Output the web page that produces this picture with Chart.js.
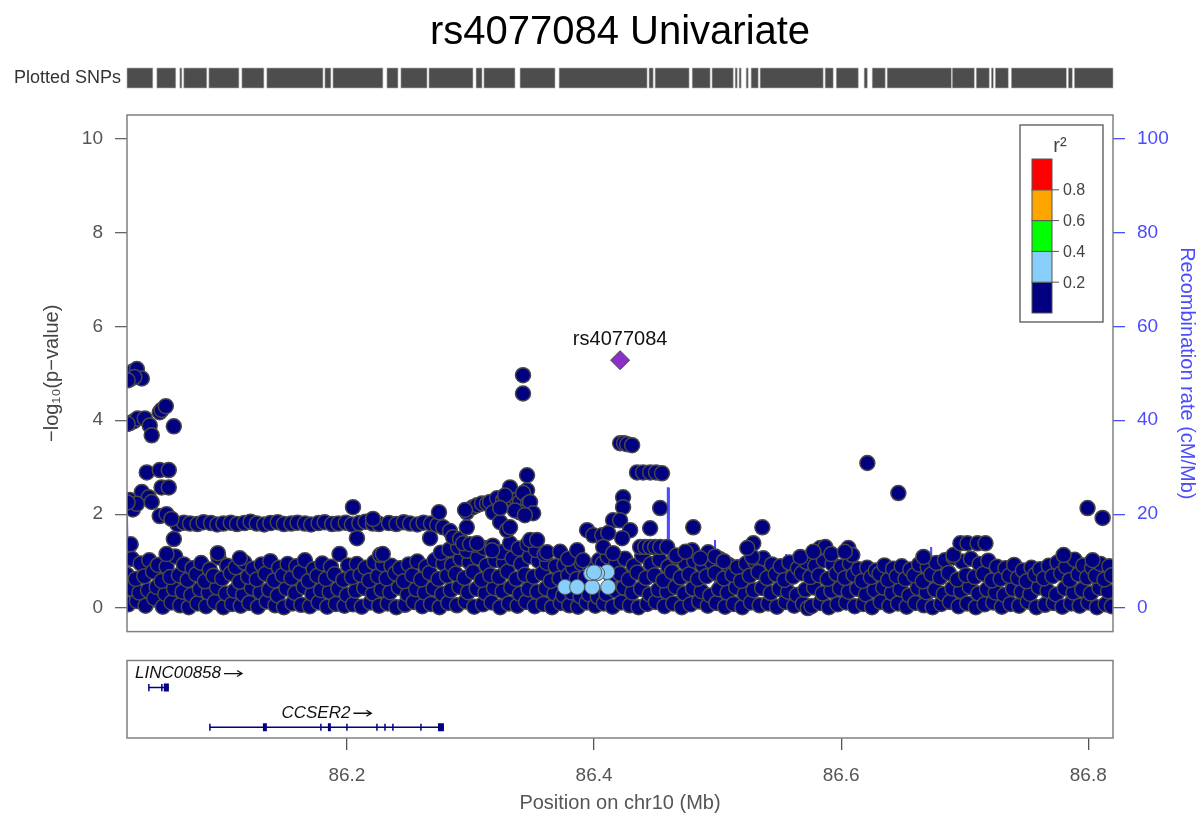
<!DOCTYPE html>
<html>
<head>
<meta charset="utf-8">
<title>rs4077084 Univariate</title>
<script src="https://cdn.jsdelivr.net/npm/chart.js@4.4.1/dist/chart.umd.min.js"></script>
<style>
  html, body { margin: 0; padding: 0; background: #fff; }
  #wrap { position: relative; width: 1204px; height: 816px; }
  #main { position: absolute; left: 0; top: 0; }
  #genes { position: absolute; left: 0; top: 655px; }
</style>
</head>
<body>
<div id="wrap">
  <canvas id="main" width="1204" height="655"></canvas>
  <canvas id="genes" width="1204" height="161"></canvas>
</div>
<script>
const plotTitle = "rs4077084 Univariate";
const XMIN = 86.022, XMAX = 86.820;
const xTicks = [86.2, 86.4, 86.6, 86.8];
const yTicks = [0, 2, 4, 6, 8, 10];
const recTicks = [0, 20, 40, 60, 80, 100];

// index SNP
const leadSnp = { name: "rs4077084", pos: 86.4211, logp: 5.28 };

// r2 0.2-0.4
const ldBlueSnps = [
  [86.3766, 0.45], [86.3863, 0.45], [86.3985, 0.45], [86.4114, 0.45],
  [86.4106, 0.77], [86.4025, 0.74], [86.3976, 0.74], [86.4000, 0.76]
];

// r2 < 0.2 : tall points at the left end
const navyLeftSnps = [
  [86.0242, 4.87], [86.0267, 5.04], [86.0300, 5.09], [86.0340, 4.89], [86.0280, 4.92], [86.0225, 4.85],
  [86.0242, 3.94], [86.0275, 3.98], [86.0307, 4.04], [86.0364, 4.04], [86.0404, 3.89], [86.0420, 3.68],
  [86.0485, 4.17], [86.0500, 4.22], [86.0534, 4.30], [86.0599, 3.87], [86.0225, 3.92],
  [86.0380, 2.89], [86.0485, 2.94], [86.0558, 2.94], [86.0500, 2.57], [86.0558, 2.57],
  [86.0242, 2.30], [86.0267, 2.10], [86.0340, 2.47], [86.0396, 2.36], [86.0420, 2.26], [86.0300, 2.22], [86.0225, 2.25],
  [86.0485, 1.96], [86.0540, 2.00], [86.0580, 1.90], [86.0250, 1.36], [86.0599, 1.47], [86.0540, 1.15]
];

// r2 < 0.2 : the flat run near 1.8
const navyRowSnps = [
  [86.063, 1.78], [86.068, 1.82], [86.073, 1.80], [86.079, 1.79], [86.084, 1.83], [86.090, 1.81],
  [86.095, 1.78], [86.100, 1.80], [86.106, 1.82], [86.111, 1.79], [86.117, 1.81], [86.122, 1.84],
  [86.127, 1.80], [86.133, 1.78], [86.138, 1.81], [86.144, 1.83], [86.149, 1.79], [86.155, 1.80],
  [86.160, 1.82], [86.166, 1.80], [86.171, 1.78], [86.177, 1.81], [86.182, 1.83], [86.188, 1.79],
  [86.193, 1.80], [86.199, 1.82], [86.204, 1.78], [86.210, 1.81], [86.215, 1.84], [86.221, 1.80],
  [86.226, 1.79], [86.234, 1.81], [86.240, 1.79], [86.246, 1.83], [86.251, 1.80], [86.257, 1.78],
  [86.262, 1.82], [86.268, 1.80], [86.273, 1.77],
  [86.2049, 2.15], [86.2211, 1.90], [86.2745, 2.04], [86.2081, 1.49], [86.2673, 1.49], [86.2268, 1.13],
  [86.0955, 1.17], [86.1133, 1.06], [86.229, 1.15]
];

// r2 < 0.2 : rise around 86.28-86.36
const navyMidSnps = [
  [86.2778, 1.72], [86.2834, 1.64], [86.2859, 1.51], [86.2915, 1.47], [86.2940, 1.38], [86.2996, 1.36],
  [86.2970, 1.72], [86.2970, 2.04], [86.3020, 2.15], [86.3053, 2.19], [86.3093, 2.23], [86.3134, 2.23],
  [86.3158, 2.26], [86.3215, 2.34], [86.3264, 2.30], [86.3320, 2.57], [86.3345, 2.30], [86.3377, 2.30],
  [86.3400, 2.26], [86.3458, 2.83], [86.3458, 2.51], [86.3426, 2.45], [86.3466, 2.23], [86.3482, 2.26],
  [86.3507, 2.02], [86.3400, 2.04], [86.3183, 2.04], [86.3240, 1.83], [86.3296, 1.66], [86.3320, 1.72],
  [86.3053, 1.38], [86.3175, 1.23], [86.3482, 1.45], [86.3539, 1.45], [86.3620, 1.19], [86.2956, 2.09],
  [86.3280, 2.40], [86.3360, 2.08], [86.3440, 1.98], [86.3240, 2.13],
  [86.3425, 4.96], [86.3425, 4.57],
  [86.3725, 1.20], [86.3790, 1.05]
];

// r2 < 0.2 : around the index SNP and to the right
const navyPeakSnps = [
  [86.4211, 3.51], [86.4243, 3.51], [86.4268, 3.49], [86.4308, 3.47],
  [86.4348, 2.89], [86.4397, 2.89], [86.4454, 2.89], [86.4502, 2.89], [86.4550, 2.87],
  [86.4235, 2.36], [86.4235, 2.15], [86.4154, 1.87], [86.4211, 1.87], [86.4292, 1.66], [86.4227, 1.49],
  [86.4535, 2.13], [86.4454, 1.70],
  [86.4373, 1.30], [86.4413, 1.30], [86.4454, 1.30], [86.4494, 1.30], [86.4535, 1.30], [86.4592, 1.30],
  [86.4803, 1.72], [86.4794, 1.23], [86.4924, 1.19],
  [86.3944, 1.66], [86.3993, 1.55], [86.4066, 1.55], [86.4114, 1.60], [86.3863, 1.23], [86.3911, 1.02],
  [86.4074, 1.30], [86.4154, 1.17],
  [86.4665, 1.12], [86.4740, 1.20], [86.4860, 1.06], [86.4980, 1.10], [86.5050, 1.00]
];

const navyRightSnps = [
  [86.6212, 3.09], [86.6463, 2.45], [86.7994, 2.13], [86.8116, 1.92],
  [86.5362, 1.72], [86.5289, 1.38], [86.5280, 1.09], [86.5240, 1.28],
  [86.5831, 1.28], [86.5872, 1.30], [86.6058, 1.28], [86.6090, 1.13], [86.5670, 1.09], [86.5775, 1.20],
  [86.5920, 1.15], [86.6030, 1.20], [86.6666, 1.09], [86.6909, 1.13],
  [86.6965, 1.38], [86.7022, 1.38], [86.7103, 1.38], [86.7168, 1.38], [86.7800, 1.13], [86.8035, 1.02]
];

// r2 < 0.2 : the dense band below ~1
const navyBandA = [
  [86.023,0.08],[86.025,0.42],[86.022,0.71],[86.026,1.05],
  [86.030,0.15],[86.032,0.33],[86.029,0.62],[86.033,0.95],
  [86.037,0.05],[86.039,0.38],[86.036,0.68],[86.040,1.02],
  [86.044,0.21],[86.046,0.45],[86.043,0.78],[86.047,0.92],
  [86.051,0.03],[86.053,0.30],[86.050,0.58],[86.054,0.88],
  [86.058,0.12],[86.060,0.41],[86.057,0.66],[86.061,1.10],
  [86.065,0.06],[86.067,0.35],[86.064,0.70],[86.068,0.93],
  [86.072,0.02],[86.074,0.28],[86.071,0.60],[86.075,0.85],
  [86.079,0.10],[86.081,0.40],[86.078,0.72],[86.082,0.96],
  [86.086,0.04],[86.088,0.33],[86.085,0.57],[86.089,0.82],
  [86.093,0.13],[86.095,0.44],[86.092,0.69],[86.096,1.08],
  [86.100,0.02],[86.102,0.31],[86.099,0.63],[86.103,0.90],
  [86.107,0.09],[86.109,0.37],[86.106,0.74],[86.110,0.87],
  [86.114,0.05],[86.116,0.29],[86.113,0.56],[86.117,0.97],
  [86.121,0.11],[86.123,0.43],[86.120,0.67],[86.124,0.84],
  [86.128,0.03],[86.130,0.34],[86.127,0.61],[86.131,0.93],
  [86.135,0.14],[86.137,0.39],[86.134,0.73],[86.138,1.00],
  [86.142,0.06],[86.144,0.27],[86.141,0.59],[86.145,0.86],
  [86.149,0.02],[86.151,0.42],[86.148,0.70],[86.152,0.94],
  [86.156,0.10],[86.158,0.32],[86.155,0.64],[86.159,0.89],
  [86.163,0.07],[86.165,0.45],[86.162,0.76],[86.166,1.02],
  [86.170,0.04],[86.172,0.30],[86.169,0.58],[86.173,0.83],
  [86.177,0.12],[86.179,0.38],[86.176,0.69],[86.180,0.95],
  [86.184,0.03],[86.186,0.35],[86.183,0.62],[86.187,0.88],
  [86.191,0.09],[86.193,0.41],[86.190,0.72],[86.194,1.15],
  [86.198,0.05],[86.200,0.28],[86.197,0.60],[86.201,0.91]
];

const navyBandB = [
  [86.205,0.08],[86.207,0.37],[86.204,0.66],[86.208,0.94],
  [86.212,0.03],[86.214,0.43],[86.211,0.71],[86.215,0.86],
  [86.219,0.12],[86.221,0.31],[86.218,0.59],[86.222,0.97],
  [86.226,0.05],[86.228,0.39],[86.225,0.68],[86.229,0.93],
  [86.233,0.10],[86.235,0.34],[86.232,0.63],[86.236,0.90],
  [86.240,0.02],[86.242,0.44],[86.239,0.74],[86.243,0.85],
  [86.247,0.07],[86.249,0.29],[86.246,0.57],[86.250,0.93],
  [86.254,0.13],[86.256,0.40],[86.253,0.70],[86.257,0.99],
  [86.261,0.04],[86.263,0.33],[86.260,0.61],[86.264,0.88],
  [86.268,0.09],[86.270,0.42],[86.267,0.75],[86.271,1.02],
  [86.275,0.02],[86.277,0.30],[86.274,0.62],[86.278,0.95],[86.276,1.18],
  [86.282,0.11],[86.284,0.38],[86.281,0.69],[86.285,0.92],[86.283,1.25],
  [86.289,0.06],[86.291,0.45],[86.288,0.73],[86.292,1.05],[86.290,1.30],
  [86.296,0.14],[86.298,0.34],[86.295,0.64],[86.299,0.98],[86.297,1.22],
  [86.303,0.03],[86.305,0.41],[86.302,0.77],[86.306,1.08],[86.304,1.35],
  [86.310,0.08],[86.312,0.32],[86.309,0.60],[86.313,0.91],[86.311,1.28],
  [86.317,0.12],[86.319,0.43],[86.316,0.70],[86.320,1.02],[86.318,1.33],
  [86.324,0.02],[86.326,0.36],[86.323,0.66],[86.327,0.97],[86.325,1.19],
  [86.331,0.10],[86.333,0.44],[86.330,0.78],[86.334,1.06],[86.332,1.38],
  [86.338,0.05],[86.340,0.30],[86.337,0.62],[86.341,0.94],[86.339,1.27],
  [86.345,0.13],[86.347,0.40],[86.344,0.71],[86.348,1.10],[86.346,1.36],
  [86.352,0.04],[86.354,0.35],[86.351,0.67],[86.355,1.01],[86.353,1.24],
  [86.359,0.09],[86.361,0.42],[86.358,0.74],[86.362,0.96],[86.360,1.15],
  [86.366,0.02],[86.368,0.31],[86.365,0.58],[86.369,0.89],
  [86.373,0.11],[86.375,0.27],[86.372,0.63],[86.376,0.92],
  [86.380,0.06],[86.382,0.33],[86.379,0.70],[86.383,0.86],
  [86.387,0.03],[86.389,0.25],[86.386,0.62],[86.390,0.95],
  [86.394,0.12],[86.396,0.29],[86.393,0.66],[86.397,0.88]
];

const navyBandC = [
  [86.401,0.05],[86.403,0.24],[86.400,0.85],[86.404,1.02],
  [86.408,0.10],[86.410,0.30],[86.407,0.95],[86.411,1.10],
  [86.415,0.03],[86.417,0.38],[86.414,0.68],[86.418,0.97],
  [86.422,0.12],[86.424,0.44],[86.421,0.73],[86.425,1.05],
  [86.429,0.06],[86.431,0.33],[86.428,0.61],[86.432,0.90],
  [86.436,0.02],[86.438,0.41],[86.435,0.76],[86.439,1.12],
  [86.443,0.09],[86.445,0.29],[86.442,0.64],[86.446,0.94],
  [86.450,0.13],[86.452,0.39],[86.449,0.70],[86.453,1.03],
  [86.457,0.04],[86.459,0.35],[86.456,0.59],[86.460,0.88],
  [86.464,0.10],[86.466,0.45],[86.463,0.77],[86.467,1.08],
  [86.471,0.02],[86.473,0.31],[86.470,0.65],[86.474,0.96],
  [86.478,0.08],[86.480,0.42],[86.477,0.72],[86.481,1.01],
  [86.485,0.14],[86.487,0.36],[86.484,0.62],[86.488,0.91],
  [86.492,0.05],[86.494,0.27],[86.491,0.68],[86.495,0.99],
  [86.499,0.11],[86.501,0.40],[86.498,0.75],[86.502,1.04],
  [86.506,0.03],[86.508,0.33],[86.505,0.63],[86.509,0.92],
  [86.513,0.09],[86.515,0.44],[86.512,0.71],[86.516,0.87],
  [86.520,0.02],[86.522,0.30],[86.519,0.58],[86.523,0.95],
  [86.527,0.12],[86.529,0.38],[86.526,0.69],[86.530,1.00],
  [86.534,0.06],[86.536,0.43],[86.533,0.77],[86.537,1.06],
  [86.541,0.10],[86.543,0.32],[86.540,0.64],[86.544,0.93],
  [86.548,0.03],[86.550,0.41],[86.547,0.72],[86.551,0.89],
  [86.555,0.13],[86.557,0.35],[86.554,0.60],[86.558,0.97],
  [86.562,0.05],[86.564,0.28],[86.561,0.67],[86.565,0.85],
  [86.569,0.09],[86.571,0.39],[86.568,0.74],[86.572,0.98],[86.573,0.00],
  [86.576,0.04],[86.578,0.44],[86.575,0.66],[86.579,0.90],
  [86.583,0.11],[86.585,0.31],[86.582,0.70],[86.586,1.02],
  [86.590,0.02],[86.592,0.37],[86.589,0.62],[86.593,0.94],
  [86.597,0.08],[86.599,0.42],[86.596,0.73],[86.600,0.88]
];

const navyBandD = [
  [86.604,0.12],[86.606,0.35],[86.603,0.64],[86.607,0.95],
  [86.611,0.04],[86.613,0.41],[86.610,0.71],[86.614,0.83],
  [86.618,0.09],[86.620,0.29],[86.617,0.58],[86.621,0.86],
  [86.625,0.02],[86.627,0.38],[86.624,0.66],[86.628,0.80],
  [86.632,0.13],[86.634,0.44],[86.631,0.73],[86.635,0.91],
  [86.639,0.05],[86.641,0.32],[86.638,0.60],[86.642,0.84],
  [86.646,0.10],[86.648,0.40],[86.645,0.68],[86.649,0.89],
  [86.653,0.03],[86.655,0.27],[86.652,0.62],[86.656,0.82],
  [86.660,0.11],[86.662,0.43],[86.659,0.70],[86.663,0.93],
  [86.667,0.06],[86.669,0.34],[86.666,0.57],[86.670,0.87],
  [86.674,0.02],[86.676,0.39],[86.673,0.72],[86.677,0.96],
  [86.681,0.09],[86.683,0.30],[86.680,0.65],[86.684,1.02],
  [86.688,0.13],[86.690,0.42],[86.687,0.75],[86.691,1.08],
  [86.695,0.04],[86.697,0.36],[86.694,0.61],[86.698,0.99],
  [86.702,0.10],[86.704,0.45],[86.701,0.70],[86.705,1.05],
  [86.709,0.02],[86.711,0.31],[86.708,0.66],[86.712,0.94],
  [86.716,0.08],[86.718,0.40],[86.715,0.73],[86.719,1.01],
  [86.723,0.12],[86.725,0.33],[86.722,0.59],[86.726,0.88],
  [86.730,0.03],[86.732,0.28],[86.729,0.62],[86.733,0.85],
  [86.737,0.09],[86.739,0.41],[86.736,0.69],[86.740,0.92],
  [86.744,0.05],[86.746,0.35],[86.743,0.64],[86.747,0.80],
  [86.751,0.14],[86.753,0.30],[86.750,0.57],[86.754,0.86],
  [86.758,0.02],[86.760,0.44],[86.757,0.71],[86.761,0.83],
  [86.765,0.07],[86.767,0.37],[86.764,0.63],[86.768,0.90],
  [86.772,0.11],[86.774,0.29],[86.771,0.68],[86.775,0.97],
  [86.779,0.03],[86.781,0.42],[86.778,0.74],[86.782,0.88],
  [86.786,0.10],[86.788,0.33],[86.785,0.60],[86.789,1.03],
  [86.793,0.05],[86.795,0.39],[86.792,0.72],[86.796,0.91],
  [86.800,0.12],[86.802,0.31],[86.799,0.65],[86.803,0.86],
  [86.807,0.02],[86.809,0.43],[86.806,0.69],[86.810,0.94],
  [86.814,0.08],[86.816,0.36],[86.813,0.61],[86.817,0.89],
  [86.819,0.04],[86.819,0.70]
];

// recombination rate (cM/Mb)
const recombPos = [86.022, 86.0226, 86.0232, 86.040, 86.070, 86.100, 86.130, 86.160, 86.200, 86.240,
  86.280, 86.320, 86.360, 86.400, 86.440, 86.4594, 86.4597, 86.4603, 86.4606, 86.480,
  86.4976, 86.4979, 86.4984, 86.4987, 86.520, 86.5551, 86.5554, 86.5559, 86.5562, 86.600,
  86.640, 86.6725, 86.6728, 86.6733, 86.6736, 86.700, 86.740, 86.780, 86.820];
const recombRate = [19.5, 19.5, 0.6, 0.3, 0.4, 0.2, 0.5, 0.3, 0.2, 0.4,
  0.3, 0.5, 0.2, 0.4, 0.6, 0.8, 25.5, 25.5, 0.9, 0.5,
  0.7, 14.5, 14.5, 0.8, 0.6, 0.7, 11.5, 11.5, 0.9, 0.5,
  0.4, 0.6, 13, 13, 0.7, 0.4, 0.3, 0.5, 0.3];

// stretches covered by plotted SNPs (Mb)
const snpBlocks = [
  [86.0220, 86.0429], [86.0462, 86.0615], [86.0648, 86.0664], [86.0680, 86.0866], [86.0883, 86.1126],
  [86.1150, 86.1328], [86.1352, 86.1806], [86.1822, 86.1870], [86.1887, 86.2291], [86.2324, 86.2413],
  [86.2437, 86.2648], [86.2664, 86.3020], [86.3045, 86.3093], [86.3109, 86.3360], [86.3401, 86.3684],
  [86.3717, 86.4429], [86.4445, 86.4478], [86.4494, 86.4769], [86.4794, 86.4939], [86.4955, 86.5126],
  [86.5142, 86.5158], [86.5174, 86.5190], [86.5231, 86.5247], [86.5271, 86.5328], [86.5344, 86.5854],
  [86.5870, 86.5935], [86.5960, 86.6138], [86.6186, 86.6211], [86.6251, 86.6356], [86.6372, 86.6891],
  [86.6899, 86.7077], [86.7093, 86.7198], [86.7215, 86.7231], [86.7247, 86.7352], [86.7377, 86.7822],
  [86.7838, 86.7870], [86.7887, 86.8200]
];

// genes
const geneNames = ["LINC00858", "CCSER2"];
const geneStarts = [86.0397, 86.0891];
const geneEnds = [86.0559, 86.2785];
const geneRows = [2, 1];
const exonTicks = [[86.0397, 86.0502], [86.0891, 86.1789, 86.2000, 86.2243, 86.2308, 86.2372, 86.2599]];
const exonBoxes = [[[86.0518, 86.0559]], [[86.1320, 86.1352], [86.1846, 86.1870], [86.2737, 86.2785]]];

// LD colour key
const r2Colors = ["#000080", "#87CEFA", "#00FF00", "#FFA500", "#FF0000"];
const r2Breaks = [0.2, 0.4, 0.6, 0.8];

const FONT = '"Liberation Sans", Arial, Helvetica, sans-serif';
Chart.defaults.font.family = FONT;

const toXY = arr => arr.map(p => ({ x: p[0], y: p[1] }));
const navySnps = [].concat(navyBandA, navyBandB, navyBandC, navyBandD,
  navyRowSnps, navyMidSnps, navyLeftSnps, navyPeakSnps, navyRightSnps);

const mainDecor = {
  id: "mainDecor",
  afterDraw(chart) {
    const { ctx, chartArea: a, scales } = chart;
    const xs = scales.x, ys = scales.y;
    ctx.save();

    // panel frame
    ctx.strokeStyle = "#808080";
    ctx.lineWidth = 1.5;
    ctx.strokeRect(a.left, a.top, a.right - a.left, a.bottom - a.top);

    // title
    ctx.fillStyle = "#000";
    ctx.font = "40px " + FONT;
    ctx.textAlign = "center";
    ctx.textBaseline = "middle";
    ctx.fillText(plotTitle, (a.left + a.right) / 2, 33);

    // plotted SNPs strip
    ctx.font = "18px " + FONT;
    ctx.textAlign = "right";
    ctx.fillStyle = "#333";
    ctx.fillText("Plotted SNPs", a.left - 6, 78);
    ctx.fillStyle = "#4d4d4d";
    ctx.strokeStyle = "#b0b0b0";
    ctx.lineWidth = 0.6;
    snpBlocks.forEach(([s, e]) => {
      const x0 = xs.getPixelForValue(s), x1 = xs.getPixelForValue(e);
      ctx.fillRect(x0, 68, x1 - x0, 20);
      ctx.strokeRect(x0, 68, x1 - x0, 20);
    });

    // index SNP name
    ctx.font = "20px " + FONT;
    ctx.textAlign = "center";
    ctx.fillStyle = "#111";
    ctx.fillText(leadSnp.name, xs.getPixelForValue(leadSnp.pos), ys.getPixelForValue(leadSnp.logp) - 21);

    // r2 key
    const bx = 1020, by = 125;
    ctx.fillStyle = "#fff";
    ctx.fillRect(bx, by, 83, 197);
    ctx.strokeStyle = "#555";
    ctx.lineWidth = 1.3;
    ctx.strokeRect(bx, by, 83, 197);
    ctx.fillStyle = "#444";
    ctx.font = "20px " + FONT;
    ctx.textAlign = "center";
    ctx.fillText("r²", 1060, 146);
    const segH = 30.8, barTop = 159, barX = 1032, barW = 20;
    const n = r2Colors.length;
    for (let i = 0; i < n; i++) {
      const y0 = barTop + (n - 1 - i) * segH;
      ctx.fillStyle = r2Colors[i];
      ctx.fillRect(barX, y0, barW, segH);
      ctx.strokeStyle = "#555";
      ctx.lineWidth = 1;
      ctx.strokeRect(barX, y0, barW, segH);
    }
    ctx.font = "16px " + FONT;
    ctx.textAlign = "left";
    ctx.fillStyle = "#444";
    r2Breaks.forEach((b, i) => {
      const y = barTop + (n - 1 - i) * segH;
      ctx.beginPath();
      ctx.moveTo(barX + barW, y);
      ctx.lineTo(barX + barW + 7, y);
      ctx.stroke();
      ctx.fillText(b.toFixed(1), barX + barW + 11, y + 1);
    });
    ctx.restore();
  }
};

new Chart(document.getElementById("main"), {
  type: "scatter",
  data: {
    datasets: [
      {
        label: leadSnp.name,
        data: [{ x: leadSnp.pos, y: leadSnp.logp }],
        pointStyle: "rectRot", pointRadius: 9.5,
        backgroundColor: "#8a2fc8", borderColor: "#4a4a4a", borderWidth: 1,
        order: 1, clip: 0
      },
      {
        label: "0.2-0.4",
        data: toXY(ldBlueSnps),
        pointRadius: 7.5, backgroundColor: "#87CEFA", borderColor: "#5a5a5a", borderWidth: 1,
        order: 2, clip: 0
      },
      {
        label: "<0.2",
        data: toXY(navySnps),
        pointRadius: 7.5, backgroundColor: "#000080", borderColor: "#484848", borderWidth: 1.5,
        order: 3, clip: 0
      },
      {
        type: "line",
        label: "Recombination rate",
        data: recombPos.map((p, i) => ({ x: p, y: recombRate[i] })),
        yAxisID: "y2",
        borderColor: "#4b4bff", borderWidth: 2, pointRadius: 0, tension: 0,
        order: 4, clip: 0
      }
    ]
  },
  options: {
    responsive: false,
    animation: false,
    events: [],
    // the y axes keep half a label plus tick padding below the plot
    layout: { padding: { top: 115, bottom: 0 } },
    plugins: { legend: { display: false }, tooltip: { enabled: false } },
    scales: {
      x: { type: "linear", min: XMIN, max: XMAX, display: false },
      y: {
        position: "left", min: -0.5, max: 10.5,
        afterFit: s => { s.width = 127; },
        afterBuildTicks: s => { s.ticks = yTicks.map(v => ({ value: v })); },
        grid: { drawOnChartArea: false, tickLength: 12, tickColor: "#666", lineWidth: 1.3 },
        border: { display: false },
        ticks: { color: "#555", font: { size: 19 }, padding: 12 },
        title: { display: true, text: "−log₁₀(p−value)", color: "#444", font: { size: 20 }, padding: { top: 40 } }
      },
      y2: {
        position: "right", min: -5, max: 105,
        afterFit: s => { s.width = 91; },
        afterBuildTicks: s => { s.ticks = recTicks.map(v => ({ value: v })); },
        grid: { drawOnChartArea: false, tickLength: 12, tickColor: "#4b4bff", lineWidth: 1.3 },
        border: { display: false },
        ticks: { color: "#4b4bff", font: { size: 19 }, padding: 12 },
        title: { display: true, text: "Recombination rate (cM/Mb)", color: "#4b4bff", font: { size: 20 }, padding: { top: 5 } }
      }
    }
  },
  plugins: [mainDecor]
});

// gene track
const geneDatasets = [];
geneNames.forEach((name, i) => {
  const row = geneRows[i];
  geneDatasets.push({
    type: "line",
    data: [{ x: geneStarts[i], y: row }, { x: geneEnds[i], y: row }],
    borderColor: "#000080", borderWidth: 1.5, pointRadius: 0
  });
  exonBoxes[i].forEach(([s, e]) => {
    geneDatasets.push({
      type: "line",
      data: [{ x: s, y: row }, { x: e, y: row }],
      borderColor: "#000080", borderWidth: 8, borderCapStyle: "butt", pointRadius: 0
    });
  });
  geneDatasets.push({
    type: "scatter",
    data: exonTicks[i].map(p => ({ x: p, y: row })),
    pointStyle: "line", rotation: 90, pointRadius: 3.6,
    borderColor: "#000080", borderWidth: 1.5
  });
});

const geneDecor = {
  id: "geneDecor",
  afterDraw(chart) {
    const { ctx, chartArea: a, scales: { x, y } } = chart;
    ctx.save();
    ctx.strokeStyle = "#808080";
    ctx.lineWidth = 1.5;
    ctx.strokeRect(a.left, a.top, a.right - a.left, a.bottom - a.top);

    ctx.font = "italic 17px " + FONT;
    ctx.textBaseline = "middle";
    ctx.textAlign = "left";
    geneNames.forEach((name, i) => {
      const mid = (x.getPixelForValue(geneStarts[i]) + x.getPixelForValue(geneEnds[i])) / 2;
      const tw = ctx.measureText(name).width;
      const total = tw + 22;
      const left = Math.max(mid - total / 2, a.left + 8);
      const ty = y.getPixelForValue(geneRows[i]) - 14;
      ctx.fillStyle = "#111";
      ctx.fillText(name, left, ty);
      // strand arrow
      const ax = left + tw + 3;
      ctx.strokeStyle = "#111";
      ctx.lineWidth = 1.3;
      ctx.beginPath();
      ctx.moveTo(ax, ty);
      ctx.lineTo(ax + 18, ty);
      ctx.moveTo(ax + 13, ty - 3);
      ctx.lineTo(ax + 18, ty);
      ctx.lineTo(ax + 13, ty + 3);
      ctx.stroke();
    });
    ctx.restore();
  }
};

new Chart(document.getElementById("genes"), {
  type: "scatter",
  data: { datasets: geneDatasets },
  options: {
    responsive: false,
    animation: false,
    events: [],
    layout: { padding: { left: 127, right: 91, top: 1, bottom: 0 } },
    plugins: { legend: { display: false }, tooltip: { enabled: false } },
    scales: {
      x: {
        type: "linear", position: "bottom", min: XMIN, max: XMAX,
        afterFit: s => { s.height = 78; },
        afterBuildTicks: s => { s.ticks = xTicks.map(v => ({ value: v })); },
        grid: { drawOnChartArea: false, tickLength: 12, tickColor: "#555", lineWidth: 1.3 },
        border: { display: false },
        ticks: { color: "#555", font: { size: 19 }, padding: 14, callback: v => v.toFixed(1) },
        title: { display: true, text: "Position on chr10 (Mb)", color: "#555", font: { size: 20 }, padding: { top: 0, bottom: 1 } }
      },
      y: { min: 0.73, max: 2.68, display: false }
    }
  },
  plugins: [geneDecor]
});
</script>
</body>
</html>
